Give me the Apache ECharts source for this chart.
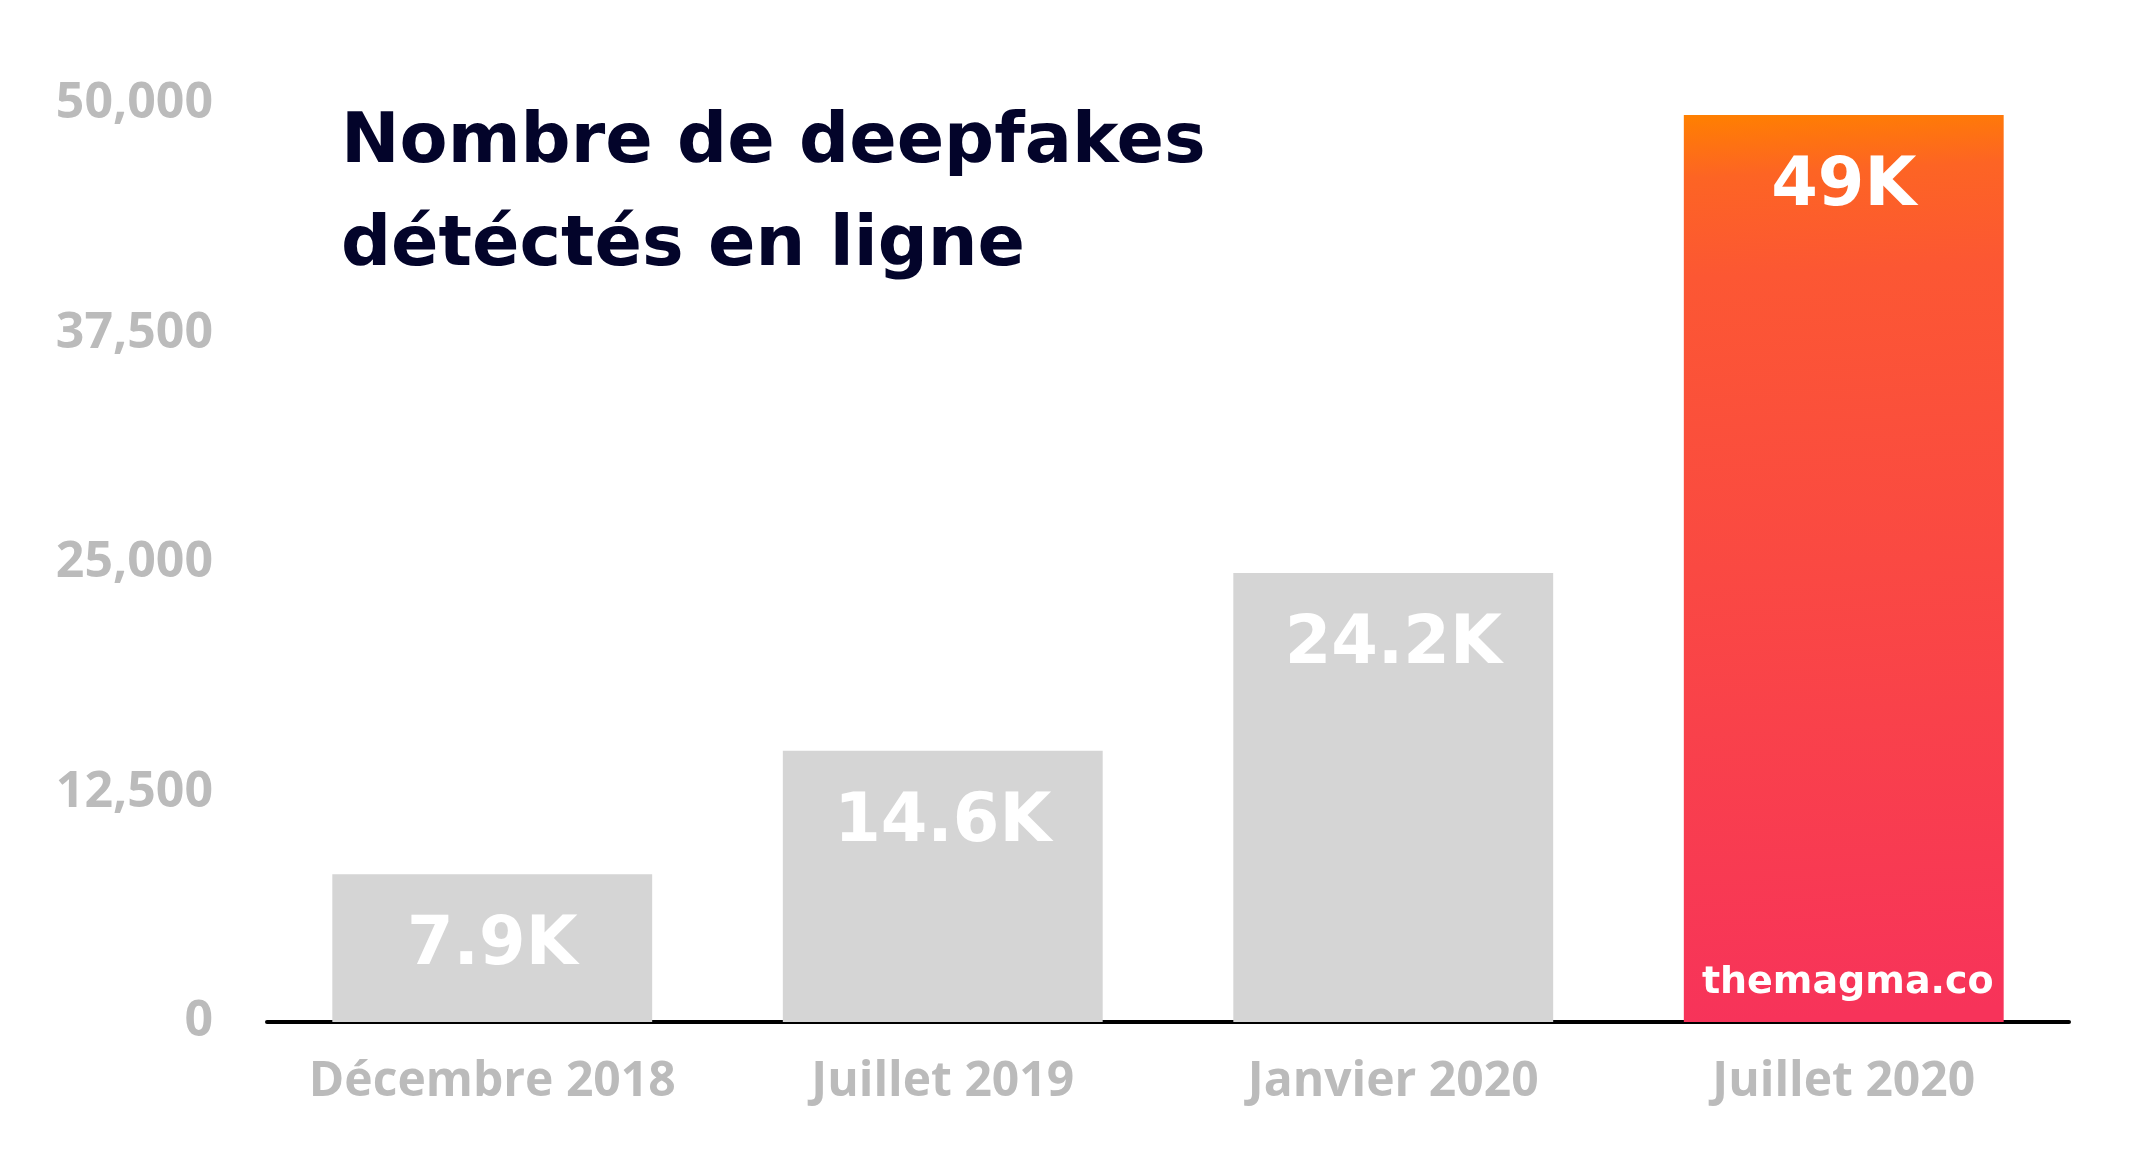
<!DOCTYPE html>
<html>
<head>
<meta charset="utf-8">
<script src="https://cdn.jsdelivr.net/npm/echarts@6/dist/echarts.min.js"></script>
<style>
html,body{margin:0;padding:0;background:#fff;}
#chart{width:2140px;height:1160px;}
</style>
</head>
<body>
<div id="chart"></div>
<script>
const categories = ['Décembre 2018', 'Juillet 2019', 'Janvier 2020', 'Juillet 2020'];
const values = [8050, 14780, 24450, 49400];
const valueLabels = ['7.9K', '14.6K', '24.2K', '49K'];
const yTicks = [0, 12500, 25000, 37500, 50000];
const titleLines = ['Nombre de deepfakes', 'détéctés en ligne'];
const watermark = 'themagma.co';

const grey = '#d5d5d5';
const highlight = new echarts.graphic.LinearGradient(0, 0, 0.15, 1, [
  { offset: 0, color: '#ff8000' },
  { offset: 0.07, color: '#fd6424' },
  { offset: 0.18, color: '#fc5733' },
  { offset: 1, color: '#f7335a' }
]);

const chart = echarts.init(document.getElementById('chart'), null, { renderer: 'canvas' });

const option = {
  backgroundColor: '#ffffff',
  animation: false,
  title: {
    text: titleLines.join('\n'),
    left: 336,
    top: 87,
    textStyle: {
      fontFamily: 'DejaVu Sans',
      fontWeight: 'bold',
      fontSize: 70,
      lineHeight: 103,
      color: '#03042a'
    }
  },
  grid: { left: 267, right: 71, top: 104, bottom: 138, containLabel: false },
  xAxis: {
    type: 'category',
    data: categories,
    axisLine: { show: true, lineStyle: { color: '#000000', width: 4 } },
    axisTick: { show: false },
    axisLabel: {
      interval: 0,
      margin: 36,
      fontFamily: 'Open Sans',
      fontWeight: 'bold',
      fontSize: 48,
      color: '#bbbbbb'
    }
  },
  yAxis: {
    type: 'value',
    min: 0,
    max: yTicks[yTicks.length - 1],
    interval: yTicks[1] - yTicks[0],
    splitLine: { show: false },
    axisLine: { show: false },
    axisTick: { show: false },
    axisLabel: {
      margin: 54,
      fontFamily: 'Open Sans',
      fontWeight: 'bold',
      fontSize: 50,
      color: '#bbbbbb',
      formatter: v => v.toLocaleString('en-US')
    }
  },
  series: [{
    type: 'bar',
    barWidth: '71%',
    data: values.map((v, i) => ({
      value: v,
      itemStyle: { color: i === values.length - 1 ? highlight : grey }
    })),
    label: {
      show: true,
      position: 'insideTop',
      distance: 39,
      fontFamily: 'DejaVu Sans',
      fontWeight: 'bold',
      fontSize: 67,
      lineHeight: 67,
      color: '#ffffff',
      formatter: p => valueLabels[p.dataIndex]
    }
  }]
};

chart.setOption(option);

const lastIdx = categories.length - 1;
const base = chart.convertToPixel({ xAxisIndex: 0, yAxisIndex: 0 }, [lastIdx, 0]);
chart.setOption({
  graphic: [{
    type: 'text',
    x: base[0] + 4,
    y: base[1] - 39,
    style: {
      text: watermark,
      fontFamily: 'DejaVu Sans',
      fontWeight: 'bold',
      fontSize: 38,
      fill: '#ffffff',
      align: 'center',
      verticalAlign: 'middle'
    },
    z: 100
  }]
});
</script>
</body>
</html>
